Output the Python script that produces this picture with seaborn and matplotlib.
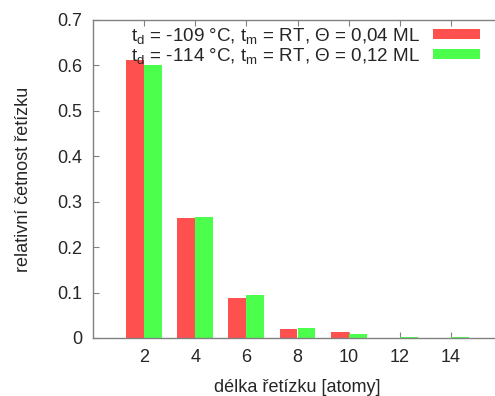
import matplotlib
matplotlib.use("Agg")
import matplotlib.pyplot as plt
import matplotlib.transforms as mtrans
import seaborn as sns
import pandas as pd

lengths = [2, 4, 6, 8, 10, 12, 14]
series1 = [0.612, 0.264, 0.088, 0.019, 0.014, 0.0, 0.0]
series2 = [0.601, 0.267, 0.095, 0.023, 0.008, 0.002, 0.002]
label1 = r"t$_\mathrm{d}$ = -109 °C, t$_\mathrm{m}$ = RT, $\Theta$ = 0,04 ML"
label2 = r"t$_\mathrm{d}$ = -114 °C, t$_\mathrm{m}$ = RT, $\Theta$ = 0,12 ML"
colors = ["#ff5050", "#4dff4d"]

df = pd.DataFrame({
    "x": lengths * 2,
    "y": series1 + series2,
    "s": [label1] * len(lengths) + [label2] * len(lengths),
})

sns.set_style("white")
plt.rcParams["font.family"] = ["Liberation Sans", "DejaVu Sans"]
plt.rcParams["mathtext.fontset"] = "custom"
plt.rcParams["mathtext.rm"] = "Liberation Sans"
plt.rcParams["mathtext.it"] = "Liberation Sans"

FS = 13
fig = plt.figure(figsize=(4.95, 3.96), dpi=100)
W, H = 495, 396
left, right, top, bottom = 93, 502, 20, 338
ax = fig.add_axes([left / W, 1 - bottom / H, (right - left) / W, (bottom - top) / H])

sns.barplot(data=df, x="x", y="y", hue="s", palette=colors, width=0.7,
            saturation=1, ax=ax, errorbar=None, linewidth=0)

ax.set_xlim(-1, 7)
ax.set_ylim(0, 0.7)
ax.set_yticks([0, 0.1, 0.2, 0.3, 0.4, 0.5, 0.6, 0.7])
ax.set_yticklabels(["0", "0.1", "0.2", "0.3", "0.4", "0.5", "0.6", "0.7"])
ax.set_xticks(range(len(lengths)))
ax.set_xticklabels([str(v) for v in lengths])
for s in ax.spines.values():
    s.set_color("#808080")
    s.set_linewidth(1)
ax.tick_params(direction="in", length=4, color="#808080", labelsize=FS,
               top=True, right=True, bottom=True, left=True)
ax.tick_params(axis="y", pad=8)
ax.tick_params(axis="x", pad=8)
ax.set_xlabel("délka řetízku [atomy]", fontsize=FS, labelpad=9)
ax.set_ylabel("relativní četnost řetízku", fontsize=FS, labelpad=18)

leg = ax.legend(loc="upper right", frameon=False, markerfirst=False,
                fontsize=13.6, handlelength=2.5, handleheight=0.46,
                labelspacing=0.0, borderpad=0.0, handletextpad=0.65,
                borderaxespad=0.0)
leg.set_bbox_to_anchor((480, H - 26), transform=mtrans.IdentityTransform())

fig.savefig("out.png", dpi=100)
